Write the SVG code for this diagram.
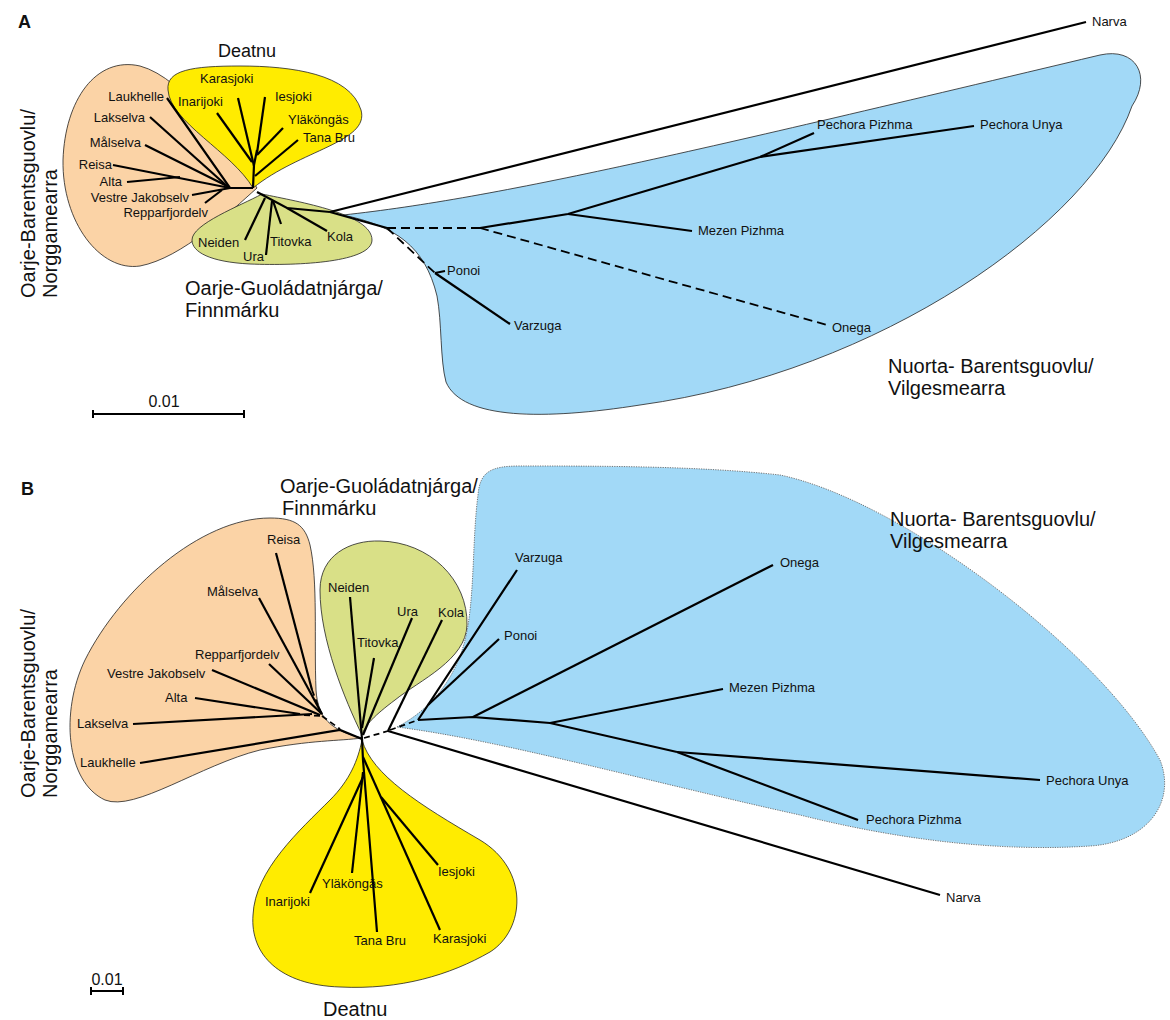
<svg xmlns="http://www.w3.org/2000/svg" width="1170" height="1020" viewBox="0 0 1170 1020">
<style>
.bg{fill:#fff}
.or{fill:#FBD3A6;stroke:#222;stroke-width:0.8}
.ye{fill:#FFEC00;stroke:#222;stroke-width:0.8}
.gr{fill:#D9E087;stroke:#222;stroke-width:0.8}
.bl{fill:#A2D9F7;stroke:#222;stroke-width:0.8}
.bld{fill:#A2D9F7;stroke:#666;stroke-width:0.9;stroke-dasharray:1.2 1.2}
.br{fill:none;stroke:#000;stroke-width:2.2}
.da{fill:none;stroke:#000;stroke-width:1.8;stroke-dasharray:9 5}
.ds{fill:none;stroke:#000;stroke-width:1.8;stroke-dasharray:6 4}
.sb{fill:none;stroke:#000;stroke-width:2}
text{font-family:"Liberation Sans",Arial,sans-serif;fill:#111}
.l{font-size:13px}
.g{font-size:20px}
.p{font-size:18px;font-weight:bold}
.s{font-size:16px}
</style>
<rect class="bg" x="0" y="0" width="1170" height="1020"/>

<!-- ================= PANEL A ================= -->
<g id="panelA-label"><text class="p" x="18" y="28">A</text></g>

<g id="A-blob-orange"><path class="or" d="M257,188 C232,150 185,78 140,66 C96,56 65,100 63,160 C62,222 100,272 140,266 C182,258 230,212 257,188 Z"/></g>
<g id="A-blob-yellow"><path class="ye" d="M253,188 C232,152 170,122 168,90 C166,70 192,66 240,66 C292,66 350,74 361,110 C370,142 300,150 253,188 Z"/></g>
<g id="A-blob-green"><path class="gr" d="M262,194 C300,202 372,214 372,240 C372,262 300,266 250,264 C210,262 192,252 192,240 C192,224 240,206 262,194 Z"/></g>
<g id="A-blob-blue"><path class="bl" d="M343,215 C500,198 700,150 1100,55 C1136,47 1152,76 1132,106 C1092,222 880,372 640,405 C545,420 462,420 446,382 C440,360 442,322 437,296 C425,246 395,226 343,215 Z"/></g>

<g id="A-connectors">
  <!-- orange -->
  <path class="br" d="M167,98 L230,188 L253,188"/>
  <path class="br" d="M150,117 L228,187"/>
  <path class="br" d="M145,145 L227,186"/>
  <path class="br" d="M113,165 L230,188"/>
  <path class="br" d="M127,182 L180,177"/>
  <path class="br" d="M192,195 L230,188"/>
  <path class="br" d="M205,203 L222,190"/>
  <!-- yellow -->
  <path class="br" d="M253,188 L254,165 L257,150"/>
  <path class="br" d="M238,98 L254,166"/>
  <path class="br" d="M217,113 L252,162"/>
  <path class="br" d="M265,97 L257,153"/>
  <path class="br" d="M283,128 L257,155"/>
  <path class="br" d="M298,140 L255,176"/>
  <!-- green -->
  <path class="br" d="M257,192 L287,208 L330,212"/>
  <path class="br" d="M245,240 L265,198"/>
  <path class="br" d="M266,255 L272,201"/>
  <path class="br" d="M281,224 L273,201"/>
  <path class="br" d="M327,231 L287,208"/>
  <!-- east -->
  <path class="br" d="M330,212 L1086,22"/>
  <path class="br" d="M330,212 L387,228"/>
  <path class="da" d="M387,228 L480,228"/>
  <path class="da" d="M387,228 L435,273"/>
  <path class="da" d="M480,228 L827,325"/>
  <path class="br" d="M480,228 L568,214 L760,157"/>
  <path class="br" d="M568,214 L692,231"/>
  <path class="br" d="M760,157 L814,133"/>
  <path class="br" d="M760,157 L974,126"/>
  <path class="br" d="M435,273 L445,271"/>
  <path class="br" d="M435,273 L510,324"/>
</g>

<g id="A-leaves" class="l">
  <text x="164" y="101" text-anchor="end">Laukhelle</text>
  <text x="145" y="122" text-anchor="end">Lakselva</text>
  <text x="141" y="147" text-anchor="end">Målselva</text>
  <text x="112" y="169" text-anchor="end">Reisa</text>
  <text x="122" y="186" text-anchor="end">Alta</text>
  <text x="189" y="202" text-anchor="end">Vestre Jakobselv</text>
  <text x="208" y="217" text-anchor="end">Repparfjordelv</text>
  <text x="200" y="83">Karasjoki</text>
  <text x="178" y="106">Inarijoki</text>
  <text x="275" y="101">Iesjoki</text>
  <text x="288" y="124">Yläköngäs</text>
  <text x="303" y="142">Tana Bru</text>
  <text x="198" y="247">Neiden</text>
  <text x="243" y="261">Ura</text>
  <text x="270" y="246">Titovka</text>
  <text x="327" y="241">Kola</text>
  <text x="1092" y="26">Narva</text>
  <text x="817" y="129">Pechora Pizhma</text>
  <text x="980" y="129">Pechora Unya</text>
  <text x="698" y="235">Mezen Pizhma</text>
  <text x="447" y="275">Ponoi</text>
  <text x="514" y="330">Varzuga</text>
  <text x="832" y="332">Onega</text>
</g>

<g id="A-groups" class="g">
  <text x="218" y="57" style="font-size:18px">Deatnu</text>
  <text x="185" y="295">Oarje-Guoládatnjárga/</text>
  <text x="185" y="317">Finnmárku</text>
  <text x="888" y="373">Nuorta- Barentsguovlu/</text>
  <text x="888" y="395">Vilgesmearra</text>
  <text transform="translate(35,298) rotate(-90)">Oarje-Barentsguovlu/</text>
  <text transform="translate(57,298) rotate(-90)">Norggamearra</text>
</g>

<g id="A-scale">
  <path class="sb" d="M93,414 L244,414 M93,410 L93,418 M244,410 L244,418"/>
  <text class="s" x="164" y="407" text-anchor="middle">0.01</text>
</g>

<!-- ================= PANEL B ================= -->
<g id="panelB-label"><text class="p" x="21" y="495">B</text></g>

<g id="B-blob-orange"><path class="or" d="M362,738 C330,730 318,718 316,690 C314,640 318,580 310,545 C305,525 295,518 270,518 C200,518 120,590 85,660 C60,712 66,782 105,800 C135,812 200,765 260,750 C310,740 340,741 362,738 Z"/></g>
<g id="B-blob-green"><path class="gr" d="M362,735 C345,700 320,640 320,590 C320,555 350,540 380,541 C430,542 468,580 467,625 C466,660 420,680 395,700 C375,715 365,725 362,735 Z"/></g>
<g id="B-blob-yellow"><path class="ye" d="M362,740 C372,775 420,805 480,840 C530,870 525,930 490,952 C450,975 400,990 340,987 C280,985 250,955 253,915 C255,870 300,830 330,800 C350,780 358,760 362,740 Z"/></g>
<g id="B-blob-blue"><path class="bld" d="M397,727 C430,710 455,680 465,640 C475,600 472,540 478,495 C480,472 490,466 520,466 C600,466 700,466 780,475 C900,500 1100,650 1160,760 C1176,800 1150,842 1090,846 C1000,852 900,840 800,815 C650,782 500,740 397,727 Z"/></g>

<g id="B-connectors">
  <!-- orange -->
  <path class="br" d="M276,553 L312,690"/>
  <path class="ds" d="M312,690 L322,716"/>
  <path class="br" d="M259,598 L322,714"/>
  <path class="br" d="M269,664 L322,714"/>
  <path class="br" d="M212,670 L320,715"/>
  <path class="br" d="M195,698 L300,714"/>
  <path class="ds" d="M304,715 L322,716"/>
  <path class="br" d="M133,724 L312,714"/>
  <path class="ds" d="M322,716 L340,729"/>
  <path class="br" d="M140,763 L340,730 L362,739"/>
  <!-- green -->
  <path class="br" d="M350,597 L362,739"/>
  <path class="br" d="M374,658 L362,728"/>
  <path class="br" d="M412,618 L363,735"/>
  <path class="br" d="M442,620 L388,731"/>
  <path class="ds" d="M364,738 L388,731"/>
  <!-- yellow -->
  <path class="br" d="M362,739 L363,760 L377,932"/>
  <path class="br" d="M363,757 L440,930"/>
  <path class="br" d="M438,865 L381,797"/>
  <path class="br" d="M310,893 L364,775"/>
  <path class="br" d="M352,873 L363,772"/>
  <!-- east -->
  <path class="br" d="M388,731 L940,895"/>
  <path class="ds" d="M390,730 L418,720"/>
  <path class="br" d="M418,720 L428,705 L517,570"/>
  <path class="br" d="M428,705 L499,639"/>
  <path class="br" d="M418,720 L473,717 L550,723 L677,752"/>
  <path class="br" d="M473,717 L773,565"/>
  <path class="br" d="M550,723 L723,689"/>
  <path class="br" d="M677,752 L1040,780"/>
  <path class="br" d="M677,752 L858,820"/>
</g>

<g id="B-leaves" class="l">
  <text x="267" y="544">Reisa</text>
  <text x="207" y="596">Målselva</text>
  <text x="195" y="659">Repparfjordelv</text>
  <text x="107" y="678">Vestre Jakobselv</text>
  <text x="165" y="702">Alta</text>
  <text x="77" y="728">Lakselva</text>
  <text x="80" y="767">Laukhelle</text>
  <text x="328" y="592">Neiden</text>
  <text x="357" y="647">Titovka</text>
  <text x="397" y="616">Ura</text>
  <text x="438" y="617">Kola</text>
  <text x="265" y="906">Inarijoki</text>
  <text x="322" y="888">Yläköngäs</text>
  <text x="354" y="945">Tana Bru</text>
  <text x="433" y="943">Karasjoki</text>
  <text x="438" y="876">Iesjoki</text>
  <text x="515" y="562">Varzuga</text>
  <text x="504" y="640">Ponoi</text>
  <text x="780" y="567">Onega</text>
  <text x="729" y="692">Mezen Pizhma</text>
  <text x="1046" y="785">Pechora Unya</text>
  <text x="866" y="824">Pechora Pizhma</text>
  <text x="946" y="902">Narva</text>
</g>

<g id="B-groups" class="g">
  <text x="280" y="493">Oarje-Guoládatnjárga/</text>
  <text x="282" y="515">Finnmárku</text>
  <text x="890" y="526">Nuorta- Barentsguovlu/</text>
  <text x="890" y="548">Vilgesmearra</text>
  <text x="323" y="1016">Deatnu</text>
  <text transform="translate(35,798) rotate(-90)">Oarje-Barentsguovlu/</text>
  <text transform="translate(57,798) rotate(-90)">Norggamearra</text>
</g>

<g id="B-scale">
  <path class="sb" d="M91,991 L123,991 M91,987 L91,995 M123,987 L123,995"/>
  <text class="s" x="107" y="985" text-anchor="middle">0.01</text>
</g>
</svg>
